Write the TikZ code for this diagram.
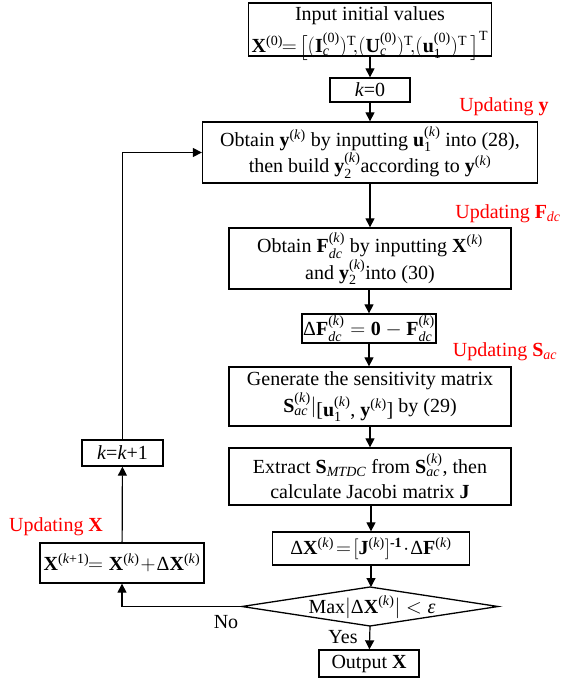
\documentclass[tikz,border=0pt]{standalone}
\usepackage{amsmath}
\usepackage{fontspec}
\setmainfont{Liberation Serif}
\usetikzlibrary{arrows.meta}
\newcommand\bfx[1]{\text{\textbf{#1}}}
\newcommand\itx[1]{\text{\textit{#1}}}
\newcommand\kk{\text{(\textit{k})}}
\newcommand\Dl{\text{Δ}}
\begin{document}
\begin{tikzpicture}[x=1pt,y=-1pt,
  every node/.style={font=\fontsize{20}{25}\selectfont, inner sep=0pt},
  box/.style={draw, line width=1.3pt, align=center},
  lbl/.style={text=red},
  arr/.style={line width=1.2pt, -{Triangle[length=9pt,width=9pt]}}]
\useasboundingbox (0,0) rectangle (566,679);
% main column
\node[box, minimum width=243pt, minimum height=53pt] (b1) at (370,29.5) {};
\node (b1a) at (370,16) {Input initial values};
\node (b1b) at (370,46)
  {$\bfx{X}^{\text{(0)}}\!\!=\!\big[(\bfx{I}_{\itx{c}}^{\text{(0)}})^{\text{T}}\!,\!(\bfx{U}_{\itx{c}}^{\text{(0)}})^{\text{T}}\!,\!(\bfx{u}_{\text{1}}^{\text{(0)}})^{\text{T}}\,\big]^{\text{T}}$};
\node[box, minimum width=80pt, minimum height=24pt] (k0) at (370,90) {\textit{k}=0};
\node[box, minimum width=335pt, minimum height=61pt] (b2) at (370,152.5)
  {Obtain $\bfx{y}^{\kk}$ by inputting $\bfx{u}_{\text{1}}^{\kk}$ into (28),\\
   then build $\bfx{y}_{\text{2}}^{\kk}$according to $\bfx{y}^{\kk}$};
\node[box, minimum width=282pt, minimum height=61pt] (b3) at (370,258.5)
  {Obtain $\bfx{F}_{\itx{dc}}^{\kk}$ by inputting $\bfx{X}^{\kk}$\\
   and $\bfx{y}_{\text{2}}^{\kk}$into (30)};
\node[box, minimum width=134pt, minimum height=29pt] (df) at (369,328.5)
  {$\Dl\bfx{F}_{\itx{dc}}^{\kk} = \bfx{0} - \bfx{F}_{\itx{dc}}^{\kk}$};
\node[box, minimum width=282pt, minimum height=59pt] (b4) at (370,396.5)
  {Generate the sensitivity matrix\\[2pt]
   $\bfx{S}_{\itx{ac}}^{\kk}|$\raisebox{-4pt}{[$\bfx{u}_{\text{1}}^{\kk}$, $\bfx{y}^{\kk}$]} by (29)};
\node[box, minimum width=282pt, minimum height=57pt] (b5) at (370,476.5)
  {Extract $\bfx{S}_{\itx{MTDC}}$ from $\bfx{S}_{\itx{ac}}^{\kk}$, then\\
   calculate Jacobi matrix \textbf{J}};
\node[box, minimum width=197pt, minimum height=33pt] (dx) at (371,548.5)
  {$\Dl\bfx{X}^{\kk}\!=\![\bfx{J}^{\kk}]^{\textbf{-1}}\!\cdot\!\Dl\bfx{F}^{\kk}$};
% decision
\coordinate (dt) at (370,587);
\coordinate (dr) at (498,606.5);
\coordinate (db) at (370,626);
\coordinate (dl) at (242,606.5);
\draw[line width=1.3pt] (dt) -- (dr) -- (db) -- (dl) -- cycle;
\node (dm) at (372,607) {Max$|\Dl\bfx{X}^{\kk}| < \itx{ε}$};
\node[box, minimum width=100pt, minimum height=27pt] (out) at (369,663.5) {Output \textbf{X}};
% left column
\node[box, minimum width=164pt, minimum height=40pt] (xb) at (122,563) 
  {$\bfx{X}^{\text{(\textit{k}+1)}}\!\!=\bfx{X}^{\kk}\!+\!\Dl\bfx{X}^{\kk}$};
\node[box, minimum width=81pt, minimum height=26pt] (kk) at (122.5,453) {\textit{k}=\textit{k}+1};
% labels
\node[lbl] (ly) at (504,107) {Updating \textbf{y}};
\node[lbl] (lf) at (508,214) {Updating $\bfx{F}_{\itx{dc}}$};
\node[lbl] (ls) at (505,352) {Updating $\bfx{S}_{\itx{ac}}$};
\node[lbl] (lx) at (56,527) {Updating \textbf{X}};
\node (no) at (226,622) {No};
\node (yes) at (343,637) {Yes};
% connectors
\draw[arr] (b1) -- (k0);
\draw[arr] (k0) -- (b2);
\draw[arr] (b2) -- (b3);
\draw[arr] (b3.south -| df) -- (df);
\draw[arr] (df) -- (b4.north -| df);
\draw[arr] (b4) -- (b5);
\draw[arr] (b5.south -| dx) -- (dx);
\draw[arr] (dx.south) -- (dt -| dx);
\draw[arr] (db) -- (out);
\draw[arr] (dl) -| (xb.south);
\draw[arr] (xb) -- (kk);
\draw[arr] (kk.north) |- (b2.west);
\end{tikzpicture}
\end{document}
